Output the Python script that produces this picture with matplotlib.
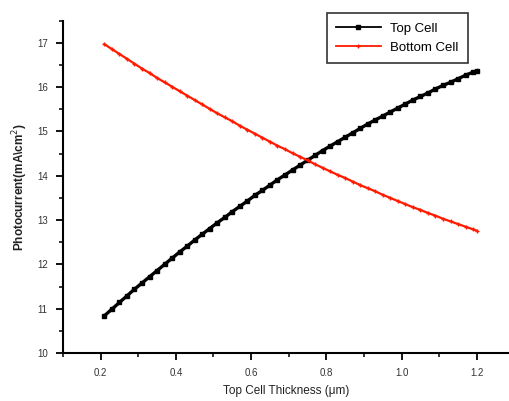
import matplotlib
matplotlib.use("Agg")
import matplotlib.pyplot as plt
from matplotlib.ticker import MultipleLocator

plt.rcParams['font.family'] = ['Liberation Sans', 'DejaVu Sans']

thickness = [0.21, 0.23, 0.25, 0.27, 0.29, 0.31, 0.33, 0.35, 0.37, 0.39,
             0.41, 0.43, 0.45, 0.47, 0.49, 0.51, 0.53, 0.55, 0.57, 0.59,
             0.61, 0.63, 0.65, 0.67, 0.69, 0.71, 0.73, 0.75, 0.77, 0.79,
             0.81, 0.83, 0.85, 0.87, 0.89, 0.91, 0.93, 0.95, 0.97, 0.99,
             1.01, 1.03, 1.05, 1.07, 1.09, 1.11, 1.13, 1.15, 1.17, 1.19, 1.20]

top_cell = [10.84, 10.99, 11.14, 11.29, 11.44, 11.58, 11.72, 11.86, 12.00, 12.14,
            12.28, 12.41, 12.55, 12.68, 12.81, 12.94, 13.06, 13.19, 13.31, 13.43,
            13.56, 13.67, 13.79, 13.91, 14.02, 14.13, 14.24, 14.35, 14.46, 14.57,
            14.67, 14.77, 14.87, 14.97, 15.07, 15.17, 15.26, 15.35, 15.44, 15.53,
            15.62, 15.71, 15.79, 15.87, 15.96, 16.04, 16.11, 16.19, 16.27, 16.34, 16.37]

bottom_cell = [16.97, 16.86, 16.75, 16.64, 16.53, 16.42, 16.32, 16.21, 16.11, 16.01,
               15.91, 15.81, 15.71, 15.61, 15.51, 15.41, 15.32, 15.23, 15.13, 15.04,
               14.95, 14.86, 14.77, 14.68, 14.60, 14.51, 14.43, 14.35, 14.26, 14.18,
               14.10, 14.02, 13.95, 13.87, 13.79, 13.72, 13.65, 13.57, 13.50, 13.43,
               13.36, 13.29, 13.23, 13.16, 13.10, 13.03, 12.97, 12.91, 12.85, 12.79, 12.76]

x_ticks = [0.2, 0.4, 0.6, 0.8, 1.0, 1.2]
y_ticks = [10, 11, 12, 13, 14, 15, 16, 17]

fig = plt.figure(figsize=(5.10, 4.01), dpi=100)
ax = fig.add_axes([0.1235, 0.1197, 0.8765, 0.8286])

ax.plot(thickness, top_cell, color='black', lw=2.4, marker='s', ms=2.2,
        label='Top Cell')
ax.plot(thickness, bottom_cell, color='#ff1a00', lw=1.6, marker='+', ms=3.2,
        mew=1.0, label='Bottom Cell')

ax.set_xlim(0.1, 1.288)
ax.set_ylim(10, 17.5)
ax.set_xticks(x_ticks)
ax.set_xticklabels(['0.2', '0.4', '0.6', '0.8', '1.0', '1.2'])
ax.set_yticks(y_ticks)
ax.xaxis.set_minor_locator(MultipleLocator(0.1))
ax.yaxis.set_minor_locator(MultipleLocator(0.5))

for s in ['top', 'right']:
    ax.spines[s].set_visible(False)
for s in ['left', 'bottom']:
    ax.spines[s].set_linewidth(1.5)

ax.tick_params(which='major', direction='out', length=5, width=1.3,
               labelsize=7, colors='black', labelcolor='#333333', pad=6)
ax.tick_params(which='minor', direction='out', length=3, width=1.1)

ax.set_xlabel('Top Cell Thickness (\u03bcm)', fontsize=8.5, color='#222222',
              labelpad=5)
ax.set_ylabel('Photocurrent(mA\\cm$^{2}$)', fontsize=8.5, color='#222222',
              labelpad=5, fontweight='bold')

leg = ax.legend(loc='upper left', bbox_to_anchor=(0.59, 1.023), frameon=True,
                fancybox=False, edgecolor='black', fontsize=9.5,
                handlelength=3.4, borderpad=0.7, labelspacing=0.55,
                handletextpad=0.7, borderaxespad=0)
leg.get_frame().set_linewidth(1.2)
for h in leg.legend_handles:
    h.set_markersize(3)
    h.set_linewidth(1.3)

fig.savefig('out.png', dpi=100)
